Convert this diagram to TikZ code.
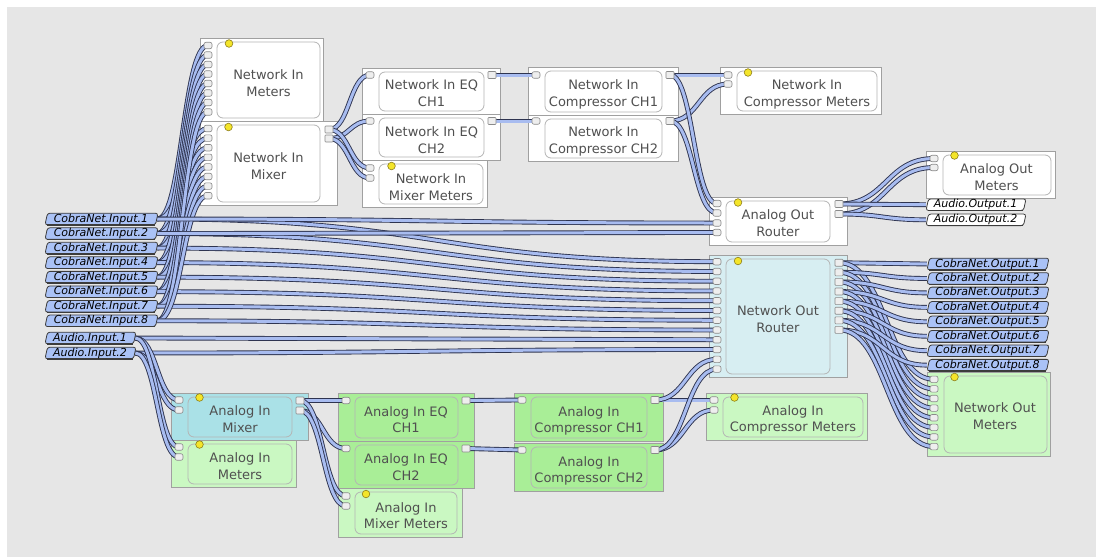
\documentclass[tikz,border=0pt]{standalone}
\usepackage{fontspec}
\setmainfont{DejaVu Sans}
\usetikzlibrary{calc}
\definecolor{bgc}{HTML}{E6E6E6}
\definecolor{outl}{HTML}{A0A0A0}
\definecolor{innl}{HTML}{B4B4B4}
\definecolor{norc}{HTML}{D7EEF2}
\definecolor{aimxc}{HTML}{AAE1E7}
\definecolor{sgreen}{HTML}{A9EE97}
\definecolor{lgreen}{HTML}{CAF8C2}
\definecolor{txt}{HTML}{505050}
\definecolor{cabdark}{HTML}{2E3450}
\definecolor{cablight}{HTML}{A8BCF0}
\definecolor{tagblue}{HTML}{AAC2F6}
\definecolor{tagline}{HTML}{3C3C3C}
\definecolor{dotfill}{HTML}{F4E52A}
\definecolor{dotline}{HTML}{8C7D1A}
\definecolor{portfill}{HTML}{EEEEEE}
\definecolor{portline}{HTML}{8A8A8A}
\pgfdeclarelayer{boxes}
\pgfdeclarelayer{cables}
\pgfsetlayers{boxes,cables,main}
\tikzset{
 outerb/.style={draw=outl, line width=0.8pt},
 innerb/.style={draw=innl, line width=0.8pt, rounded corners=6pt},
 lbl/.style={align=center, text=txt, inner sep=0pt, font=\fontsize{13}{16.7}\selectfont},
 inport/.style={draw=portline, fill=portfill, line width=0.6pt, minimum width=8pt, minimum height=6.5pt, inner sep=0pt, rounded corners=2pt},
 outport/.style={inport, rounded corners=0.8pt, minimum height=7pt},
 cable/.style={draw=cabdark, line width=0.9pt, double=cablight, double distance=3pt},
 dotst/.style={draw=dotline, fill=dotfill, line width=0.6pt},
 tagshape/.style={draw=tagline, line width=0.8pt, rounded corners=2.5pt},
 tagtext/.style={inner sep=0pt, minimum height=11pt, font=\fontsize{11}{12}\selectfont\itshape, text=black},
}
\newcommand\blk[6]{%
 \draw[outerb,fill=#5] (#1,#2) rectangle (#3,#4);
 \draw[innerb,fill=#5] (#1+17,#2+4) rectangle (#3-#6,#4-3);}
\newcommand\ydot[2]{\draw[dotst] (#1,#2) circle (3.8pt);}
\newcommand\tagat[6]{%
 \draw[tagshape,fill=#5] (#2+2.5,#4-5.8) -- (#3+1,#4-5.8) -- (#3-1.5,#4+5.8) -- (#2,#4+5.8) -- cycle;
 \draw[tagline,line width=1.2pt] (#2+1.5,#4+5.9) -- (#3-2.5,#4+5.9);
 \node[tagtext,minimum width={#3-#2}] (#1) at ({(#2+#3)/2},#4) {#6};}
\newcommand\cab[2]{%
 \begin{pgfonlayer}{cables}
 \draw[cable] let \p1=(#1), \p2=(#2), \n1={max(abs(\x2-\x1)/2,10pt)} in (\p1) .. controls (\x1+\n1,\y1) and (\x2-\n1,\y2) .. (\p2);
 \end{pgfonlayer}}
\begin{document}
\begin{tikzpicture}[x=1pt,y=-1pt]
\useasboundingbox (0,0) rectangle (1096,557);
\begin{pgfonlayer}{boxes}
\fill[white] (0,0) rectangle (1096,557);
\fill[bgc] (7,7) rectangle (1096,557);
% network side
\blk{200}{38}{323}{121}{white}{3}
\blk{200}{121}{337}{205}{white}{17}
\blk{362}{68}{500}{114}{white}{16}
\blk{362}{114}{500}{160}{white}{16}
\blk{362}{160}{487}{207}{white}{4}
\blk{528}{67}{678}{115}{white}{16}
\blk{528}{115}{678}{161}{white}{16}
\blk{720}{67}{881}{114}{white}{4}
\blk{926}{151}{1055}{198}{white}{4}
\blk{709}{197}{847}{245}{white}{17}
\blk{709}{255}{847}{377}{norc}{17}
\blk{927}{372}{1050}{456}{lgreen}{3}
% analog side
\blk{706}{393}{867}{440}{lgreen}{4}
\blk{514}{393}{663}{441}{sgreen}{16}
\blk{514}{443}{663}{491}{sgreen}{16}
\blk{171}{393}{308}{440}{aimxc}{16}
\blk{171}{440}{296}{487}{lgreen}{4}
\blk{338}{393}{474}{441}{sgreen}{16}
\blk{338}{441}{474}{488}{sgreen}{16}
\blk{338}{488}{462}{537}{lgreen}{5}
% dots
\ydot{229}{43.5} \ydot{228.5}{127} \ydot{391.5}{166} \ydot{748}{72.5}
\ydot{954.5}{155.5} \ydot{738}{202.5} \ydot{738}{261} \ydot{954.5}{377}
\ydot{734.5}{397.5} \ydot{199.5}{397.5} \ydot{199.5}{444.5} \ydot{366}{494}
% labels
\node[lbl] (nim) at (268.5,83) {Network In\\Meters};
\node[lbl] (nimx) at (268.5,166) {Network In\\Mixer};
\node[lbl] (eq1) at (431.5,93.3) {Network In EQ\\CH1};
\node[lbl] (eq2) at (431.5,140) {Network In EQ\\CH2};
\node[lbl] (nimm) at (431,187.4) {Network In\\Mixer Meters};
\node[lbl] (c1) at (603.5,94.5) {Network In\\Compressor CH1};
\node[lbl] (c2) at (603.5,141.3) {Network In\\Compressor CH2};
\node[lbl] (nicm) at (807,94.5) {Network In\\Compressor Meters};
\node[lbl] (aom) at (996.5,177.2) {Analog Out\\Meters};
\node[lbl] (aor) at (778,223.3) {Analog Out\\Router};
\node[lbl] (nor) at (778,319) {Network Out\\Router};
\node[lbl] (nom) at (995,416) {Network Out\\Meters};
\node[lbl] (aicm) at (793,420) {Analog In\\Compressor Meters};
\node[lbl] (ac1) at (589,421) {Analog In\\Compressor CH1};
\node[lbl] (ac2) at (589,470.8) {Analog In\\Compressor CH2};
\node[lbl] (aimx) at (240,419.2) {Analog In\\Mixer};
\node[lbl] (aim) at (240,466.3) {Analog In\\Meters};
\node[lbl] (aeq1) at (406,419.7) {Analog In EQ\\CH1};
\node[lbl] (aeq2) at (406,467) {Analog In EQ\\CH2};
\node[lbl] (aimm) at (406,515.7) {Analog In\\Mixer Meters};
\end{pgfonlayer}
% ports
\foreach \i in {1,...,8}{
 \node[inport] (nimI\i) at (208,{45.5+9.5*(\i-1)}) {};
 \node[inport] (nimxI\i) at (208,{128.5+9.6*(\i-1)}) {};
 \node[outport] (norO\i) at (839,{262.7+9.6*(\i-1)}) {};
 \node[inport] (nomI\i) at (934,{379.3+9.62*(\i-1)}) {};
}
\foreach \i in {1,...,12}{\node[inport] (norI\i) at (717,{261.7+9.76*(\i-1)}) {};}
\node[outport] (nimxO1) at (329,129.5) {};
\node[outport] (nimxO2) at (329,138.5) {};
\node[inport] (eq1I) at (370,75) {};
\node[outport] (eq1O) at (492,75) {};
\node[inport] (eq2I) at (370,121) {};
\node[outport] (eq2O) at (492,121) {};
\node[inport] (nimmI1) at (370,168) {};
\node[inport] (nimmI2) at (370,178) {};
\node[inport] (c1I) at (536,75) {};
\node[outport] (c1O) at (670,75) {};
\node[inport] (c2I) at (536,121) {};
\node[outport] (c2O) at (670,121) {};
\node[inport] (nicmI1) at (728,75) {};
\node[inport] (nicmI2) at (728,84) {};
\node[inport] (aomI1) at (934,158.5) {};
\node[inport] (aomI2) at (934,167.5) {};
\node[inport] (aorI1) at (717,203.5) {};
\node[inport] (aorI2) at (717,213) {};
\node[inport] (aorI3) at (717,223) {};
\node[inport] (aorI4) at (717,232.5) {};
\node[outport] (aorO1) at (839,204) {};
\node[outport] (aorO2) at (839,214) {};
\node[inport] (aicmI1) at (714,400) {};
\node[inport] (aicmI2) at (714,410) {};
\node[inport] (ac1I) at (522,400) {};
\node[outport] (ac1O) at (655,400) {};
\node[inport] (ac2I) at (522,450) {};
\node[outport] (ac2O) at (655,450) {};
\node[inport] (aimxI1) at (179,400) {};
\node[inport] (aimxI2) at (179,410) {};
\node[outport] (aimxO1) at (300,400.5) {};
\node[outport] (aimxO2) at (300,410.5) {};
\node[inport] (aimI1) at (179,447) {};
\node[inport] (aimI2) at (179,457) {};
\node[inport] (aeq1I) at (346,400.5) {};
\node[outport] (aeq1O) at (466,400.5) {};
\node[inport] (aeq2I) at (346,448.5) {};
\node[outport] (aeq2O) at (466,448.5) {};
\node[inport] (aimmI1) at (346,496) {};
\node[inport] (aimmI2) at (346,506) {};
% tags
\foreach \i in {1,...,8}{\pgfmathsetmacro\yy{219+14.54*(\i-1)}\tagat{ci\i}{45}{157}{\yy}{tagblue}{CobraNet.Input.\i}}
\tagat{ai1}{45}{135}{338}{tagblue}{Audio.Input.1}
\tagat{ai2}{45}{135}{353}{tagblue}{Audio.Input.2}
\foreach \i in {1,...,8}{\pgfmathsetmacro\yy{264+14.45*(\i-1)}\tagat{co\i}{927}{1048}{\yy}{tagblue}{CobraNet.Output.\i}}
\tagat{ao1}{926}{1025}{204.7}{white}{Audio.Output.1}
\tagat{ao2}{926}{1025}{219.8}{white}{Audio.Output.2}
% cables
\foreach \i in {1,...,8}{
 \cab{ci\i.east}{nimI\i.center}
 \cab{ci\i.east}{nimxI\i.center}
 \cab{ci\i.east}{norI\i.center}
 \cab{norO\i.center}{co\i.west}
 \cab{norO\i.center}{nomI\i.center}
}
\cab{ci1.east}{aorI3.center}
\cab{ci2.east}{aorI4.center}
\cab{ai1.east}{norI9.center}
\cab{ai2.east}{norI10.center}
\cab{ai1.east}{aimxI1.center}
\cab{ai2.east}{aimxI2.center}
\cab{ai1.east}{aimI1.center}
\cab{ai2.east}{aimI2.center}
\cab{nimxO1.center}{eq1I.center}
\cab{nimxO2.center}{eq2I.center}
\cab{nimxO1.center}{nimmI1.center}
\cab{nimxO2.center}{nimmI2.center}
\cab{eq1O.center}{c1I.center}
\cab{eq2O.center}{c2I.center}
\cab{c1O.center}{nicmI1.center}
\cab{c2O.center}{nicmI2.center}
\cab{c1O.center}{aorI1.center}
\cab{c2O.center}{aorI2.center}
\cab{aorO1.center}{aomI1.center}
\cab{aorO2.center}{aomI2.center}
\cab{aorO1.center}{ao1.west}
\cab{aorO2.center}{ao2.west}
\cab{aimxO1.center}{aeq1I.center}
\cab{aimxO2.center}{aeq2I.center}
\cab{aimxO1.center}{aimmI1.center}
\cab{aimxO2.center}{aimmI2.center}
\cab{aeq1O.center}{ac1I.center}
\cab{aeq2O.center}{ac2I.center}
\cab{ac1O.center}{aicmI1.center}
\cab{ac2O.center}{aicmI2.center}
\cab{ac1O.center}{norI11.center}
\cab{ac2O.center}{norI12.center}
\end{tikzpicture}
\end{document}
